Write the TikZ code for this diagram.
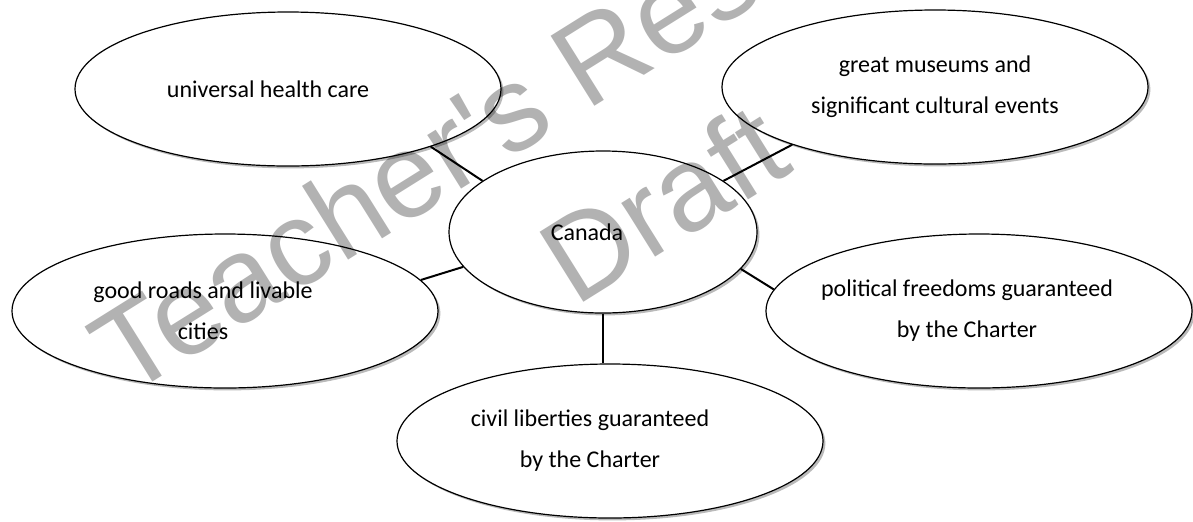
\documentclass[tikz,border=0pt]{standalone}
\usepackage{fontspec}
\setmainfont{Carlito}
\newfontfamily\markfont{Liberation Sans}
\usetikzlibrary{shapes.geometric,shadows}

\begin{document}
\begin{tikzpicture}[
		x=0.5pt,y=-0.5pt,
		font=\fontsize{12}{20.5}\selectfont,
		bubble/.style={draw,ellipse,line width=0.6pt,fill=white,inner sep=0pt,
			minimum width=213pt,minimum height=77pt,
			drop shadow={shadow xshift=1.2pt,shadow yshift=-1.2pt,opacity=0.45,fill=black!60}},
		hub/.style={bubble,minimum width=154pt,minimum height=81pt},
		say/.style={align=center,inner sep=0pt,xshift=#1},
		say/.default=-10pt,
		ln/.style={line width=1pt},
		wmark/.style={font=\markfont\fontsize{60}{60}\selectfont,text=black!30,rotate=32,inner sep=0pt}
		]
		\useasboundingbox (0,0) rectangle (1193,521);

		\node[hub,label={[say=-8pt]center:Canada}] (canada) at (603,232) {};
		\node[bubble,label={[say]center:universal health care}] (health) at (288,89) {};
		\node[bubble,label={[say=0pt]center:great museums and\\significant cultural events}] (museums) at (935,87) {};
		\node[bubble,label={[say=-11pt]center:good roads and livable\\cities}] (roads) at (225,311) {};
		\node[bubble,label={[say=-6pt]center:political freedoms guaranteed\\by the Charter}] (rights) at (979,311) {};
		\node[bubble,label={[say]center:civil liberties guaranteed\\by the Charter}] (liberties) at (610,441) {};

		\draw[ln] (health.-22) -- (canada.157);
		\draw[ln] (museums.-158) -- (canada.23);
		\draw[ln] (roads.9) -- (canada.194);
		\draw[ln] (canada.-15) -- (rights.174);
		\draw[ln] (canada.south) -- (canada.south |- liberties.north);

		% watermark
		\begin{scope}[blend mode=multiply]
			\node[wmark,anchor=base west] (teacher) at (126,399) {Teacher's Resource};
			\node[wmark,anchor=base west] (draft) at (575,308) {Draft};
		\end{scope}

	\end{tikzpicture}
\end{document}
